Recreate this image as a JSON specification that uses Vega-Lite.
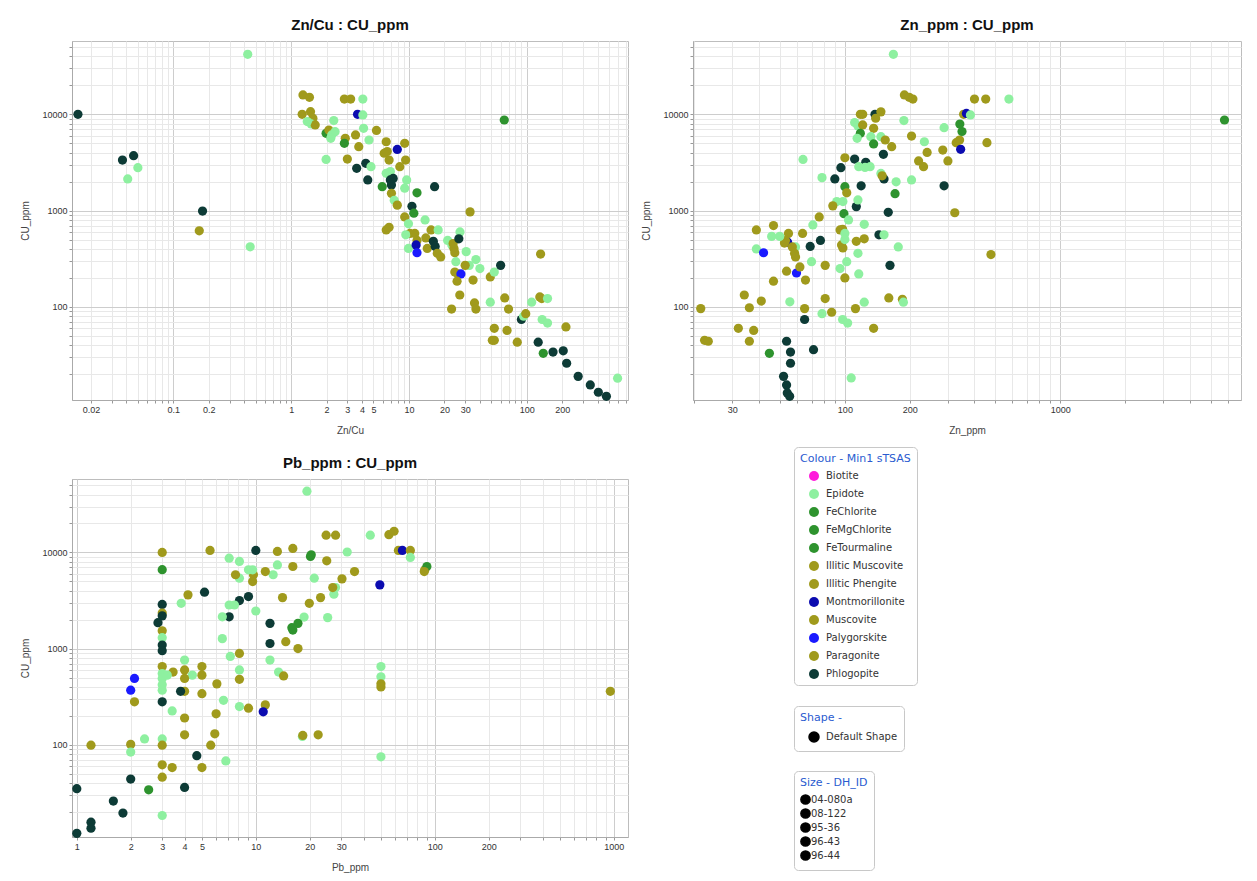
{
"$schema":"https://vega.github.io/schema/vega-lite/v6.json",
"padding":{"left":20,"top":17,"right":5,"bottom":0},
"background":"white",
"datasets":{
"ZnCu":[
{"ZnCu":0.0155,"CU_ppm":10000,"Min1":"Phlogopite"},
{"ZnCu":0.037,"CU_ppm":3350,"Min1":"Phlogopite"},
{"ZnCu":0.046,"CU_ppm":3720,"Min1":"Phlogopite"},
{"ZnCu":0.041,"CU_ppm":2130,"Min1":"Epidote"},
{"ZnCu":0.05,"CU_ppm":2790,"Min1":"Epidote"},
{"ZnCu":0.177,"CU_ppm":990,"Min1":"Phlogopite"},
{"ZnCu":0.166,"CU_ppm":617,"Min1":"Muscovite"},
{"ZnCu":0.428,"CU_ppm":42000,"Min1":"Epidote"},
{"ZnCu":0.449,"CU_ppm":421,"Min1":"Epidote"},
{"ZnCu":64.4,"CU_ppm":8730,"Min1":"FeChlorite"},
{"ZnCu":1.26,"CU_ppm":15900,"Min1":"Muscovite"},
{"ZnCu":1.43,"CU_ppm":15000,"Min1":"Muscovite"},
{"ZnCu":1.24,"CU_ppm":10000,"Min1":"Muscovite"},
{"ZnCu":1.46,"CU_ppm":10650,"Min1":"Muscovite"},
{"ZnCu":1.53,"CU_ppm":9100,"Min1":"Muscovite"},
{"ZnCu":1.48,"CU_ppm":7940,"Min1":"Epidote"},
{"ZnCu":1.6,"CU_ppm":7750,"Min1":"Muscovite"},
{"ZnCu":1.37,"CU_ppm":8400,"Min1":"Epidote"},
{"ZnCu":1.98,"CU_ppm":6350,"Min1":"FeChlorite"},
{"ZnCu":2.09,"CU_ppm":6870,"Min1":"Muscovite"},
{"ZnCu":1.98,"CU_ppm":3400,"Min1":"Epidote"},
{"ZnCu":2.21,"CU_ppm":6100,"Min1":"Epidote"},
{"ZnCu":2.36,"CU_ppm":6600,"Min1":"Epidote"},
{"ZnCu":2.3,"CU_ppm":8600,"Min1":"Epidote"},
{"ZnCu":2.17,"CU_ppm":5630,"Min1":"Epidote"},
{"ZnCu":2.83,"CU_ppm":14400,"Min1":"Muscovite"},
{"ZnCu":3.2,"CU_ppm":14400,"Min1":"Muscovite"},
{"ZnCu":4.06,"CU_ppm":14400,"Min1":"Epidote"},
{"ZnCu":3.66,"CU_ppm":10000,"Min1":"Montmorillonite"},
{"ZnCu":4.06,"CU_ppm":9850,"Min1":"Epidote"},
{"ZnCu":4.12,"CU_ppm":7150,"Min1":"Epidote"},
{"ZnCu":2.88,"CU_ppm":5630,"Min1":"Muscovite"},
{"ZnCu":2.83,"CU_ppm":5000,"Min1":"FeChlorite"},
{"ZnCu":3.52,"CU_ppm":6100,"Min1":"Muscovite"},
{"ZnCu":3.75,"CU_ppm":4610,"Min1":"Muscovite"},
{"ZnCu":4.58,"CU_ppm":5410,"Min1":"Epidote"},
{"ZnCu":3.0,"CU_ppm":3430,"Min1":"Muscovite"},
{"ZnCu":3.6,"CU_ppm":2750,"Min1":"Phlogopite"},
{"ZnCu":4.3,"CU_ppm":3100,"Min1":"Phlogopite"},
{"ZnCu":4.47,"CU_ppm":2080,"Min1":"Phlogopite"},
{"ZnCu":4.76,"CU_ppm":2860,"Min1":"Epidote"},
{"ZnCu":5.3,"CU_ppm":6800,"Min1":"Muscovite"},
{"ZnCu":6.41,"CU_ppm":5190,"Min1":"Muscovite"},
{"ZnCu":6.54,"CU_ppm":4100,"Min1":"Muscovite"},
{"ZnCu":6.16,"CU_ppm":3940,"Min1":"Muscovite"},
{"ZnCu":6.78,"CU_ppm":3350,"Min1":"Muscovite"},
{"ZnCu":7.96,"CU_ppm":4320,"Min1":"Montmorillonite"},
{"ZnCu":9.2,"CU_ppm":5000,"Min1":"Muscovite"},
{"ZnCu":9.37,"CU_ppm":3350,"Min1":"Muscovite"},
{"ZnCu":8.36,"CU_ppm":2860,"Min1":"Muscovite"},
{"ZnCu":6.95,"CU_ppm":2540,"Min1":"Epidote"},
{"ZnCu":6.41,"CU_ppm":2440,"Min1":"Epidote"},
{"ZnCu":6.95,"CU_ppm":2080,"Min1":"Phlogopite"},
{"ZnCu":7.35,"CU_ppm":2160,"Min1":"Phlogopite"},
{"ZnCu":7.1,"CU_ppm":1840,"Min1":"Phlogopite"},
{"ZnCu":5.93,"CU_ppm":1770,"Min1":"FeChlorite"},
{"ZnCu":7.1,"CU_ppm":1510,"Min1":"Muscovite"},
{"ZnCu":7.5,"CU_ppm":1280,"Min1":"Epidote"},
{"ZnCu":7.96,"CU_ppm":1140,"Min1":"Muscovite"},
{"ZnCu":9.56,"CU_ppm":2080,"Min1":"Epidote"},
{"ZnCu":9.2,"CU_ppm":1710,"Min1":"Epidote"},
{"ZnCu":11.7,"CU_ppm":1530,"Min1":"FeChlorite"},
{"ZnCu":10.6,"CU_ppm":1110,"Min1":"Phlogopite"},
{"ZnCu":11.0,"CU_ppm":940,"Min1":"FeChlorite"},
{"ZnCu":9.2,"CU_ppm":860,"Min1":"Muscovite"},
{"ZnCu":9.9,"CU_ppm":730,"Min1":"Epidote"},
{"ZnCu":10.2,"CU_ppm":580,"Min1":"Muscovite"},
{"ZnCu":6.41,"CU_ppm":630,"Min1":"Muscovite"},
{"ZnCu":6.78,"CU_ppm":670,"Min1":"Muscovite"},
{"ZnCu":9.4,"CU_ppm":560,"Min1":"Epidote"},
{"ZnCu":9.9,"CU_ppm":405,"Min1":"Epidote"},
{"ZnCu":11.2,"CU_ppm":580,"Min1":"Muscovite"},
{"ZnCu":11.7,"CU_ppm":490,"Min1":"Muscovite"},
{"ZnCu":11.5,"CU_ppm":440,"Min1":"Montmorillonite"},
{"ZnCu":11.7,"CU_ppm":365,"Min1":"Palygorskite"},
{"ZnCu":13.7,"CU_ppm":800,"Min1":"Epidote"},
{"ZnCu":15.4,"CU_ppm":630,"Min1":"Muscovite"},
{"ZnCu":13.9,"CU_ppm":520,"Min1":"Muscovite"},
{"ZnCu":14.3,"CU_ppm":405,"Min1":"Muscovite"},
{"ZnCu":16.1,"CU_ppm":480,"Min1":"Phlogopite"},
{"ZnCu":16.7,"CU_ppm":425,"Min1":"Phlogopite"},
{"ZnCu":17.4,"CU_ppm":360,"Min1":"Muscovite"},
{"ZnCu":18.6,"CU_ppm":330,"Min1":"Muscovite"},
{"ZnCu":17.7,"CU_ppm":630,"Min1":"Epidote"},
{"ZnCu":16.5,"CU_ppm":1770,"Min1":"Phlogopite"},
{"ZnCu":21.3,"CU_ppm":490,"Min1":"Epidote"},
{"ZnCu":23.1,"CU_ppm":440,"Min1":"Epidote"},
{"ZnCu":24.1,"CU_ppm":405,"Min1":"Muscovite"},
{"ZnCu":23.7,"CU_ppm":455,"Min1":"Muscovite"},
{"ZnCu":24.5,"CU_ppm":365,"Min1":"Muscovite"},
{"ZnCu":27.1,"CU_ppm":600,"Min1":"Epidote"},
{"ZnCu":26.5,"CU_ppm":510,"Min1":"Phlogopite"},
{"ZnCu":30.6,"CU_ppm":375,"Min1":"Epidote"},
{"ZnCu":25,"CU_ppm":295,"Min1":"Epidote"},
{"ZnCu":32.5,"CU_ppm":270,"Min1":"Epidote"},
{"ZnCu":30,"CU_ppm":270,"Min1":"Muscovite"},
{"ZnCu":24.5,"CU_ppm":230,"Min1":"Muscovite"},
{"ZnCu":26,"CU_ppm":220,"Min1":"Muscovite"},
{"ZnCu":27.6,"CU_ppm":220,"Min1":"Palygorskite"},
{"ZnCu":25.6,"CU_ppm":185,"Min1":"Muscovite"},
{"ZnCu":27,"CU_ppm":133,"Min1":"Muscovite"},
{"ZnCu":35,"CU_ppm":190,"Min1":"Muscovite"},
{"ZnCu":37,"CU_ppm":310,"Min1":"Epidote"},
{"ZnCu":40,"CU_ppm":250,"Min1":"Epidote"},
{"ZnCu":33,"CU_ppm":970,"Min1":"Muscovite"},
{"ZnCu":23,"CU_ppm":95,"Min1":"Muscovite"},
{"ZnCu":36,"CU_ppm":110,"Min1":"Muscovite"},
{"ZnCu":37,"CU_ppm":95,"Min1":"Muscovite"},
{"ZnCu":49,"CU_ppm":205,"Min1":"Muscovite"},
{"ZnCu":53,"CU_ppm":230,"Min1":"Epidote"},
{"ZnCu":49,"CU_ppm":112,"Min1":"Epidote"},
{"ZnCu":60,"CU_ppm":270,"Min1":"Phlogopite"},
{"ZnCu":53,"CU_ppm":60,"Min1":"Muscovite"},
{"ZnCu":68,"CU_ppm":57,"Min1":"Muscovite"},
{"ZnCu":51,"CU_ppm":45,"Min1":"Muscovite"},
{"ZnCu":53,"CU_ppm":45,"Min1":"Muscovite"},
{"ZnCu":65,"CU_ppm":124,"Min1":"Muscovite"},
{"ZnCu":70,"CU_ppm":95,"Min1":"Muscovite"},
{"ZnCu":83,"CU_ppm":43,"Min1":"Muscovite"},
{"ZnCu":90,"CU_ppm":74,"Min1":"Phlogopite"},
{"ZnCu":94,"CU_ppm":80,"Min1":"Epidote"},
{"ZnCu":98,"CU_ppm":85,"Min1":"Muscovite"},
{"ZnCu":110,"CU_ppm":112,"Min1":"Epidote"},
{"ZnCu":129,"CU_ppm":127,"Min1":"Muscovite"},
{"ZnCu":134,"CU_ppm":122,"Min1":"Muscovite"},
{"ZnCu":150,"CU_ppm":122,"Min1":"Epidote"},
{"ZnCu":131,"CU_ppm":354,"Min1":"Muscovite"},
{"ZnCu":135,"CU_ppm":74,"Min1":"Epidote"},
{"ZnCu":150,"CU_ppm":68,"Min1":"Epidote"},
{"ZnCu":215,"CU_ppm":62,"Min1":"Muscovite"},
{"ZnCu":125,"CU_ppm":43,"Min1":"Phlogopite"},
{"ZnCu":138,"CU_ppm":33,"Min1":"FeChlorite"},
{"ZnCu":167,"CU_ppm":34,"Min1":"Phlogopite"},
{"ZnCu":204,"CU_ppm":35,"Min1":"Phlogopite"},
{"ZnCu":218,"CU_ppm":26,"Min1":"Phlogopite"},
{"ZnCu":273,"CU_ppm":19,"Min1":"Phlogopite"},
{"ZnCu":346,"CU_ppm":15.5,"Min1":"Phlogopite"},
{"ZnCu":405,"CU_ppm":13,"Min1":"Phlogopite"},
{"ZnCu":474,"CU_ppm":11.8,"Min1":"Phlogopite"},
{"ZnCu":590,"CU_ppm":18.2,"Min1":"Epidote"}
],
"Zn":[
{"Zn_ppm":168,"CU_ppm":42000,"Min1":"Epidote"},
{"Zn_ppm":189,"CU_ppm":15900,"Min1":"Muscovite"},
{"Zn_ppm":199,"CU_ppm":15000,"Min1":"Muscovite"},
{"Zn_ppm":207,"CU_ppm":14400,"Min1":"Muscovite"},
{"Zn_ppm":400,"CU_ppm":14400,"Min1":"Muscovite"},
{"Zn_ppm":451,"CU_ppm":14400,"Min1":"Muscovite"},
{"Zn_ppm":578,"CU_ppm":14400,"Min1":"Epidote"},
{"Zn_ppm":118,"CU_ppm":10000,"Min1":"Muscovite"},
{"Zn_ppm":121,"CU_ppm":10000,"Min1":"Muscovite"},
{"Zn_ppm":138,"CU_ppm":10000,"Min1":"Phlogopite"},
{"Zn_ppm":147,"CU_ppm":10600,"Min1":"Muscovite"},
{"Zn_ppm":139,"CU_ppm":9100,"Min1":"Muscovite"},
{"Zn_ppm":111,"CU_ppm":8200,"Min1":"Epidote"},
{"Zn_ppm":115,"CU_ppm":7560,"Min1":"Epidote"},
{"Zn_ppm":121,"CU_ppm":7750,"Min1":"Muscovite"},
{"Zn_ppm":118,"CU_ppm":6350,"Min1":"FeChlorite"},
{"Zn_ppm":114,"CU_ppm":5630,"Min1":"Epidote"},
{"Zn_ppm":188,"CU_ppm":8600,"Min1":"Epidote"},
{"Zn_ppm":136,"CU_ppm":7150,"Min1":"Muscovite"},
{"Zn_ppm":132,"CU_ppm":5860,"Min1":"Epidote"},
{"Zn_ppm":147,"CU_ppm":5860,"Min1":"Epidote"},
{"Zn_ppm":154,"CU_ppm":5410,"Min1":"Muscovite"},
{"Zn_ppm":136,"CU_ppm":4920,"Min1":"FeChlorite"},
{"Zn_ppm":165,"CU_ppm":4610,"Min1":"Muscovite"},
{"Zn_ppm":204,"CU_ppm":5950,"Min1":"Muscovite"},
{"Zn_ppm":234,"CU_ppm":5190,"Min1":"Epidote"},
{"Zn_ppm":241,"CU_ppm":4020,"Min1":"Muscovite"},
{"Zn_ppm":220,"CU_ppm":3280,"Min1":"Muscovite"},
{"Zn_ppm":232,"CU_ppm":2860,"Min1":"Muscovite"},
{"Zn_ppm":301,"CU_ppm":3280,"Min1":"Muscovite"},
{"Zn_ppm":285,"CU_ppm":4250,"Min1":"Muscovite"},
{"Zn_ppm":289,"CU_ppm":7270,"Min1":"Epidote"},
{"Zn_ppm":329,"CU_ppm":5070,"Min1":"Muscovite"},
{"Zn_ppm":345,"CU_ppm":4330,"Min1":"Montmorillonite"},
{"Zn_ppm":341,"CU_ppm":5410,"Min1":"Muscovite"},
{"Zn_ppm":350,"CU_ppm":6630,"Min1":"FeChlorite"},
{"Zn_ppm":356,"CU_ppm":10000,"Min1":"Muscovite"},
{"Zn_ppm":367,"CU_ppm":10200,"Min1":"Montmorillonite"},
{"Zn_ppm":383,"CU_ppm":9850,"Min1":"Epidote"},
{"Zn_ppm":342,"CU_ppm":7930,"Min1":"FeChlorite"},
{"Zn_ppm":457,"CU_ppm":5070,"Min1":"Muscovite"},
{"Zn_ppm":477,"CU_ppm":350,"Min1":"Muscovite"},
{"Zn_ppm":5800,"CU_ppm":8730,"Min1":"FeChlorite"},
{"Zn_ppm":324,"CU_ppm":950,"Min1":"Muscovite"},
{"Zn_ppm":289,"CU_ppm":1810,"Min1":"Phlogopite"},
{"Zn_ppm":63.9,"CU_ppm":3400,"Min1":"Epidote"},
{"Zn_ppm":78.3,"CU_ppm":2200,"Min1":"Epidote"},
{"Zn_ppm":89.8,"CU_ppm":2130,"Min1":"Phlogopite"},
{"Zn_ppm":95.8,"CU_ppm":2790,"Min1":"Phlogopite"},
{"Zn_ppm":100,"CU_ppm":3540,"Min1":"Muscovite"},
{"Zn_ppm":111,"CU_ppm":3430,"Min1":"Phlogopite"},
{"Zn_ppm":125,"CU_ppm":3170,"Min1":"Phlogopite"},
{"Zn_ppm":116,"CU_ppm":2860,"Min1":"Epidote"},
{"Zn_ppm":124,"CU_ppm":2810,"Min1":"Epidote"},
{"Zn_ppm":131,"CU_ppm":2860,"Min1":"Epidote"},
{"Zn_ppm":147,"CU_ppm":2430,"Min1":"Epidote"},
{"Zn_ppm":152,"CU_ppm":2130,"Min1":"Phlogopite"},
{"Zn_ppm":149,"CU_ppm":2300,"Min1":"Muscovite"},
{"Zn_ppm":151,"CU_ppm":3840,"Min1":"Phlogopite"},
{"Zn_ppm":173,"CU_ppm":1990,"Min1":"Epidote"},
{"Zn_ppm":204,"CU_ppm":2080,"Min1":"Epidote"},
{"Zn_ppm":171,"CU_ppm":1500,"Min1":"FeChlorite"},
{"Zn_ppm":119,"CU_ppm":1810,"Min1":"Phlogopite"},
{"Zn_ppm":100,"CU_ppm":1770,"Min1":"FeChlorite"},
{"Zn_ppm":102,"CU_ppm":1530,"Min1":"Muscovite"},
{"Zn_ppm":91.7,"CU_ppm":1240,"Min1":"Epidote"},
{"Zn_ppm":87.9,"CU_ppm":1120,"Min1":"Muscovite"},
{"Zn_ppm":97.9,"CU_ppm":1240,"Min1":"Epidote"},
{"Zn_ppm":113,"CU_ppm":1100,"Min1":"Phlogopite"},
{"Zn_ppm":115,"CU_ppm":1290,"Min1":"Epidote"},
{"Zn_ppm":159,"CU_ppm":960,"Min1":"Phlogopite"},
{"Zn_ppm":99,"CU_ppm":930,"Min1":"FeChlorite"},
{"Zn_ppm":104,"CU_ppm":800,"Min1":"Epidote"},
{"Zn_ppm":95,"CU_ppm":630,"Min1":"Muscovite"},
{"Zn_ppm":97.6,"CU_ppm":640,"Min1":"Muscovite"},
{"Zn_ppm":100,"CU_ppm":580,"Min1":"Epidote"},
{"Zn_ppm":97.9,"CU_ppm":410,"Min1":"Muscovite"},
{"Zn_ppm":96.5,"CU_ppm":440,"Min1":"Muscovite"},
{"Zn_ppm":100,"CU_ppm":500,"Min1":"Epidote"},
{"Zn_ppm":113,"CU_ppm":480,"Min1":"Muscovite"},
{"Zn_ppm":123,"CU_ppm":510,"Min1":"Muscovite"},
{"Zn_ppm":123,"CU_ppm":720,"Min1":"Epidote"},
{"Zn_ppm":115,"CU_ppm":360,"Min1":"Epidote"},
{"Zn_ppm":102,"CU_ppm":295,"Min1":"Epidote"},
{"Zn_ppm":95,"CU_ppm":250,"Min1":"Epidote"},
{"Zn_ppm":100,"CU_ppm":200,"Min1":"Muscovite"},
{"Zn_ppm":116,"CU_ppm":220,"Min1":"Epidote"},
{"Zn_ppm":144,"CU_ppm":560,"Min1":"Phlogopite"},
{"Zn_ppm":152,"CU_ppm":560,"Min1":"Epidote"},
{"Zn_ppm":177,"CU_ppm":420,"Min1":"Epidote"},
{"Zn_ppm":162,"CU_ppm":270,"Min1":"Phlogopite"},
{"Zn_ppm":76,"CU_ppm":860,"Min1":"Muscovite"},
{"Zn_ppm":71,"CU_ppm":710,"Min1":"Epidote"},
{"Zn_ppm":77,"CU_ppm":490,"Min1":"Phlogopite"},
{"Zn_ppm":69,"CU_ppm":425,"Min1":"Phlogopite"},
{"Zn_ppm":81,"CU_ppm":270,"Min1":"Muscovite"},
{"Zn_ppm":63.6,"CU_ppm":580,"Min1":"Muscovite"},
{"Zn_ppm":70,"CU_ppm":295,"Min1":"Epidote"},
{"Zn_ppm":59,"CU_ppm":420,"Min1":"Epidote"},
{"Zn_ppm":54.7,"CU_ppm":580,"Min1":"Muscovite"},
{"Zn_ppm":54.2,"CU_ppm":470,"Min1":"Montmorillonite"},
{"Zn_ppm":53,"CU_ppm":490,"Min1":"Muscovite"},
{"Zn_ppm":52.4,"CU_ppm":460,"Min1":"Muscovite"},
{"Zn_ppm":57,"CU_ppm":420,"Min1":"Muscovite"},
{"Zn_ppm":58.4,"CU_ppm":360,"Min1":"Muscovite"},
{"Zn_ppm":59,"CU_ppm":330,"Min1":"Muscovite"},
{"Zn_ppm":59.6,"CU_ppm":225,"Min1":"Palygorskite"},
{"Zn_ppm":61.8,"CU_ppm":260,"Min1":"Muscovite"},
{"Zn_ppm":65.6,"CU_ppm":190,"Min1":"Muscovite"},
{"Zn_ppm":53.6,"CU_ppm":235,"Min1":"Muscovite"},
{"Zn_ppm":46.6,"CU_ppm":700,"Min1":"Muscovite"},
{"Zn_ppm":45.7,"CU_ppm":540,"Min1":"Epidote"},
{"Zn_ppm":38.8,"CU_ppm":630,"Min1":"Muscovite"},
{"Zn_ppm":38.8,"CU_ppm":400,"Min1":"Epidote"},
{"Zn_ppm":41.9,"CU_ppm":365,"Min1":"Palygorskite"},
{"Zn_ppm":49.8,"CU_ppm":540,"Min1":"Epidote"},
{"Zn_ppm":46.6,"CU_ppm":185,"Min1":"Muscovite"},
{"Zn_ppm":34.1,"CU_ppm":133,"Min1":"Muscovite"},
{"Zn_ppm":36,"CU_ppm":98,"Min1":"Muscovite"},
{"Zn_ppm":40.9,"CU_ppm":115,"Min1":"Muscovite"},
{"Zn_ppm":55.5,"CU_ppm":113,"Min1":"Epidote"},
{"Zn_ppm":65,"CU_ppm":96,"Min1":"Muscovite"},
{"Zn_ppm":65,"CU_ppm":74,"Min1":"Phlogopite"},
{"Zn_ppm":78.3,"CU_ppm":85,"Min1":"Epidote"},
{"Zn_ppm":81,"CU_ppm":122,"Min1":"Muscovite"},
{"Zn_ppm":86.8,"CU_ppm":88,"Min1":"Muscovite"},
{"Zn_ppm":97.6,"CU_ppm":74,"Min1":"Epidote"},
{"Zn_ppm":103,"CU_ppm":68,"Min1":"Epidote"},
{"Zn_ppm":112,"CU_ppm":96,"Min1":"Muscovite"},
{"Zn_ppm":123,"CU_ppm":112,"Min1":"Epidote"},
{"Zn_ppm":160,"CU_ppm":124,"Min1":"Muscovite"},
{"Zn_ppm":185,"CU_ppm":120,"Min1":"Muscovite"},
{"Zn_ppm":187,"CU_ppm":112,"Min1":"Epidote"},
{"Zn_ppm":136,"CU_ppm":60,"Min1":"Muscovite"},
{"Zn_ppm":21.4,"CU_ppm":96,"Min1":"Muscovite"},
{"Zn_ppm":22.3,"CU_ppm":45,"Min1":"Muscovite"},
{"Zn_ppm":23.2,"CU_ppm":44,"Min1":"Muscovite"},
{"Zn_ppm":32,"CU_ppm":60,"Min1":"Muscovite"},
{"Zn_ppm":37.7,"CU_ppm":57,"Min1":"Muscovite"},
{"Zn_ppm":36,"CU_ppm":44,"Min1":"Muscovite"},
{"Zn_ppm":44.6,"CU_ppm":33,"Min1":"FeChlorite"},
{"Zn_ppm":53.6,"CU_ppm":44,"Min1":"Phlogopite"},
{"Zn_ppm":55.9,"CU_ppm":34,"Min1":"Phlogopite"},
{"Zn_ppm":55.9,"CU_ppm":26,"Min1":"Phlogopite"},
{"Zn_ppm":51.9,"CU_ppm":19,"Min1":"Phlogopite"},
{"Zn_ppm":53.6,"CU_ppm":15.5,"Min1":"Phlogopite"},
{"Zn_ppm":54,"CU_ppm":12.8,"Min1":"Phlogopite"},
{"Zn_ppm":55.4,"CU_ppm":11.8,"Min1":"Phlogopite"},
{"Zn_ppm":71.5,"CU_ppm":36,"Min1":"Phlogopite"},
{"Zn_ppm":107,"CU_ppm":18.3,"Min1":"Epidote"}
],
"Pb":[
{"Pb_ppm":19.3,"CU_ppm":43300,"Min1":"Epidote"},
{"Pb_ppm":24.7,"CU_ppm":15100,"Min1":"Muscovite"},
{"Pb_ppm":27.9,"CU_ppm":15100,"Min1":"Muscovite"},
{"Pb_ppm":43.6,"CU_ppm":15100,"Min1":"Epidote"},
{"Pb_ppm":55.4,"CU_ppm":15300,"Min1":"Muscovite"},
{"Pb_ppm":59.2,"CU_ppm":16600,"Min1":"Muscovite"},
{"Pb_ppm":62.6,"CU_ppm":10500,"Min1":"Muscovite"},
{"Pb_ppm":65.9,"CU_ppm":10500,"Min1":"Montmorillonite"},
{"Pb_ppm":73,"CU_ppm":10500,"Min1":"Muscovite"},
{"Pb_ppm":73,"CU_ppm":8870,"Min1":"Epidote"},
{"Pb_ppm":88,"CU_ppm":6590,"Min1":"Muscovite"},
{"Pb_ppm":90.3,"CU_ppm":7140,"Min1":"FeChlorite"},
{"Pb_ppm":87.3,"CU_ppm":6330,"Min1":"Muscovite"},
{"Pb_ppm":32.4,"CU_ppm":10100,"Min1":"Epidote"},
{"Pb_ppm":35.6,"CU_ppm":6330,"Min1":"Muscovite"},
{"Pb_ppm":30.3,"CU_ppm":5310,"Min1":"Muscovite"},
{"Pb_ppm":27.9,"CU_ppm":4310,"Min1":"Epidote"},
{"Pb_ppm":27.3,"CU_ppm":3680,"Min1":"Epidote"},
{"Pb_ppm":26.9,"CU_ppm":4310,"Min1":"Muscovite"},
{"Pb_ppm":24.9,"CU_ppm":8190,"Min1":"Muscovite"},
{"Pb_ppm":21.2,"CU_ppm":5400,"Min1":"Epidote"},
{"Pb_ppm":20.2,"CU_ppm":9090,"Min1":"FeChlorite"},
{"Pb_ppm":20.4,"CU_ppm":9450,"Min1":"FeChlorite"},
{"Pb_ppm":19.9,"CU_ppm":2960,"Min1":"Muscovite"},
{"Pb_ppm":23,"CU_ppm":3390,"Min1":"Muscovite"},
{"Pb_ppm":25.2,"CU_ppm":2100,"Min1":"Epidote"},
{"Pb_ppm":18.6,"CU_ppm":2130,"Min1":"Epidote"},
{"Pb_ppm":17.2,"CU_ppm":1830,"Min1":"FeChlorite"},
{"Pb_ppm":16.1,"CU_ppm":1560,"Min1":"FeChlorite"},
{"Pb_ppm":15.9,"CU_ppm":1650,"Min1":"FeChlorite"},
{"Pb_ppm":14.1,"CU_ppm":3390,"Min1":"Muscovite"},
{"Pb_ppm":14.7,"CU_ppm":1180,"Min1":"Muscovite"},
{"Pb_ppm":17.2,"CU_ppm":1000,"Min1":"Muscovite"},
{"Pb_ppm":16.1,"CU_ppm":7140,"Min1":"Muscovite"},
{"Pb_ppm":16.1,"CU_ppm":11000,"Min1":"Muscovite"},
{"Pb_ppm":13.2,"CU_ppm":10250,"Min1":"Muscovite"},
{"Pb_ppm":13.2,"CU_ppm":7420,"Min1":"Epidote"},
{"Pb_ppm":12.5,"CU_ppm":5860,"Min1":"Epidote"},
{"Pb_ppm":11.3,"CU_ppm":6320,"Min1":"Muscovite"},
{"Pb_ppm":10,"CU_ppm":10500,"Min1":"Phlogopite"},
{"Pb_ppm":9.7,"CU_ppm":5860,"Min1":"Muscovite"},
{"Pb_ppm":9.6,"CU_ppm":4980,"Min1":"Muscovite"},
{"Pb_ppm":9.6,"CU_ppm":6600,"Min1":"Epidote"},
{"Pb_ppm":9.1,"CU_ppm":6600,"Min1":"Epidote"},
{"Pb_ppm":8.1,"CU_ppm":8060,"Min1":"Epidote"},
{"Pb_ppm":7.1,"CU_ppm":8720,"Min1":"Epidote"},
{"Pb_ppm":8.1,"CU_ppm":5400,"Min1":"Epidote"},
{"Pb_ppm":7.7,"CU_ppm":5860,"Min1":"Muscovite"},
{"Pb_ppm":9.1,"CU_ppm":3480,"Min1":"Phlogopite"},
{"Pb_ppm":8.1,"CU_ppm":3160,"Min1":"Phlogopite"},
{"Pb_ppm":7.6,"CU_ppm":2840,"Min1":"Epidote"},
{"Pb_ppm":7.1,"CU_ppm":2840,"Min1":"Epidote"},
{"Pb_ppm":7.1,"CU_ppm":2140,"Min1":"Phlogopite"},
{"Pb_ppm":6.5,"CU_ppm":2140,"Min1":"Epidote"},
{"Pb_ppm":10,"CU_ppm":2460,"Min1":"Epidote"},
{"Pb_ppm":12,"CU_ppm":1830,"Min1":"Phlogopite"},
{"Pb_ppm":12,"CU_ppm":1130,"Min1":"Phlogopite"},
{"Pb_ppm":12,"CU_ppm":760,"Min1":"Epidote"},
{"Pb_ppm":13.4,"CU_ppm":570,"Min1":"Epidote"},
{"Pb_ppm":14.3,"CU_ppm":520,"Min1":"Muscovite"},
{"Pb_ppm":6.5,"CU_ppm":1270,"Min1":"Epidote"},
{"Pb_ppm":7.2,"CU_ppm":830,"Min1":"Epidote"},
{"Pb_ppm":8.1,"CU_ppm":890,"Min1":"Muscovite"},
{"Pb_ppm":8.1,"CU_ppm":600,"Min1":"Epidote"},
{"Pb_ppm":8.1,"CU_ppm":480,"Min1":"Muscovite"},
{"Pb_ppm":6.6,"CU_ppm":290,"Min1":"Epidote"},
{"Pb_ppm":8.1,"CU_ppm":250,"Min1":"Epidote"},
{"Pb_ppm":9.1,"CU_ppm":240,"Min1":"Muscovite"},
{"Pb_ppm":11.3,"CU_ppm":260,"Min1":"Muscovite"},
{"Pb_ppm":11,"CU_ppm":220,"Min1":"Montmorillonite"},
{"Pb_ppm":6.06,"CU_ppm":430,"Min1":"Muscovite"},
{"Pb_ppm":6.0,"CU_ppm":210,"Min1":"Muscovite"},
{"Pb_ppm":5.9,"CU_ppm":130,"Min1":"Muscovite"},
{"Pb_ppm":5.6,"CU_ppm":99,"Min1":"Muscovite"},
{"Pb_ppm":5,"CU_ppm":58,"Min1":"Muscovite"},
{"Pb_ppm":5,"CU_ppm":340,"Min1":"Muscovite"},
{"Pb_ppm":5,"CU_ppm":650,"Min1":"Muscovite"},
{"Pb_ppm":5,"CU_ppm":530,"Min1":"Muscovite"},
{"Pb_ppm":4.42,"CU_ppm":530,"Min1":"Epidote"},
{"Pb_ppm":4,"CU_ppm":760,"Min1":"Epidote"},
{"Pb_ppm":4,"CU_ppm":600,"Min1":"Muscovite"},
{"Pb_ppm":4,"CU_ppm":490,"Min1":"Muscovite"},
{"Pb_ppm":4,"CU_ppm":360,"Min1":"Muscovite"},
{"Pb_ppm":4,"CU_ppm":190,"Min1":"Muscovite"},
{"Pb_ppm":4,"CU_ppm":127,"Min1":"Muscovite"},
{"Pb_ppm":4,"CU_ppm":36,"Min1":"Phlogopite"},
{"Pb_ppm":3.8,"CU_ppm":360,"Min1":"Phlogopite"},
{"Pb_ppm":4.18,"CU_ppm":3620,"Min1":"Muscovite"},
{"Pb_ppm":3.83,"CU_ppm":2960,"Min1":"Epidote"},
{"Pb_ppm":5.17,"CU_ppm":3860,"Min1":"Phlogopite"},
{"Pb_ppm":4.68,"CU_ppm":77,"Min1":"Phlogopite"},
{"Pb_ppm":6.8,"CU_ppm":68,"Min1":"Epidote"},
{"Pb_ppm":3.45,"CU_ppm":570,"Min1":"Muscovite"},
{"Pb_ppm":3.41,"CU_ppm":225,"Min1":"Epidote"},
{"Pb_ppm":3.41,"CU_ppm":58,"Min1":"Muscovite"},
{"Pb_ppm":3,"CU_ppm":10000,"Min1":"Muscovite"},
{"Pb_ppm":3,"CU_ppm":6620,"Min1":"FeChlorite"},
{"Pb_ppm":3,"CU_ppm":2880,"Min1":"Phlogopite"},
{"Pb_ppm":3,"CU_ppm":2340,"Min1":"Muscovite"},
{"Pb_ppm":3,"CU_ppm":2190,"Min1":"Phlogopite"},
{"Pb_ppm":2.84,"CU_ppm":1860,"Min1":"Phlogopite"},
{"Pb_ppm":3,"CU_ppm":1530,"Min1":"Muscovite"},
{"Pb_ppm":3,"CU_ppm":1300,"Min1":"Epidote"},
{"Pb_ppm":3,"CU_ppm":1090,"Min1":"Phlogopite"},
{"Pb_ppm":3,"CU_ppm":950,"Min1":"Phlogopite"},
{"Pb_ppm":3,"CU_ppm":650,"Min1":"Muscovite"},
{"Pb_ppm":3,"CU_ppm":550,"Min1":"Epidote"},
{"Pb_ppm":3,"CU_ppm":490,"Min1":"Epidote"},
{"Pb_ppm":3,"CU_ppm":420,"Min1":"Epidote"},
{"Pb_ppm":3,"CU_ppm":370,"Min1":"Epidote"},
{"Pb_ppm":3,"CU_ppm":280,"Min1":"Phlogopite"},
{"Pb_ppm":3.2,"CU_ppm":530,"Min1":"Epidote"},
{"Pb_ppm":3,"CU_ppm":115,"Min1":"Epidote"},
{"Pb_ppm":3,"CU_ppm":99,"Min1":"Muscovite"},
{"Pb_ppm":3,"CU_ppm":62,"Min1":"Muscovite"},
{"Pb_ppm":3,"CU_ppm":46,"Min1":"Muscovite"},
{"Pb_ppm":3,"CU_ppm":18.4,"Min1":"Epidote"},
{"Pb_ppm":2.39,"CU_ppm":115,"Min1":"Epidote"},
{"Pb_ppm":2.52,"CU_ppm":34,"Min1":"FeChlorite"},
{"Pb_ppm":2,"CU_ppm":370,"Min1":"Palygorskite"},
{"Pb_ppm":2.1,"CU_ppm":490,"Min1":"Palygorskite"},
{"Pb_ppm":2.1,"CU_ppm":280,"Min1":"Muscovite"},
{"Pb_ppm":2,"CU_ppm":101,"Min1":"Muscovite"},
{"Pb_ppm":2,"CU_ppm":84,"Min1":"Epidote"},
{"Pb_ppm":2,"CU_ppm":44,"Min1":"Phlogopite"},
{"Pb_ppm":1.2,"CU_ppm":99,"Min1":"Muscovite"},
{"Pb_ppm":1.2,"CU_ppm":15.7,"Min1":"Phlogopite"},
{"Pb_ppm":1.2,"CU_ppm":13.6,"Min1":"Phlogopite"},
{"Pb_ppm":1,"CU_ppm":35,"Min1":"Phlogopite"},
{"Pb_ppm":1,"CU_ppm":12,"Min1":"Phlogopite"},
{"Pb_ppm":1.6,"CU_ppm":26,"Min1":"Phlogopite"},
{"Pb_ppm":1.81,"CU_ppm":19.5,"Min1":"Phlogopite"},
{"Pb_ppm":5.55,"CU_ppm":10500,"Min1":"Muscovite"},
{"Pb_ppm":49.3,"CU_ppm":4600,"Min1":"Montmorillonite"},
{"Pb_ppm":50,"CU_ppm":650,"Min1":"Epidote"},
{"Pb_ppm":50,"CU_ppm":510,"Min1":"Epidote"},
{"Pb_ppm":50,"CU_ppm":430,"Min1":"Muscovite"},
{"Pb_ppm":50,"CU_ppm":400,"Min1":"Muscovite"},
{"Pb_ppm":50,"CU_ppm":75,"Min1":"Epidote"},
{"Pb_ppm":18.2,"CU_ppm":122,"Min1":"Epidote"},
{"Pb_ppm":18.3,"CU_ppm":125,"Min1":"Muscovite"},
{"Pb_ppm":22.3,"CU_ppm":127,"Min1":"Muscovite"},
{"Pb_ppm":956,"CU_ppm":360,"Min1":"Muscovite"}
]
},
"columns":2,
"spacing":{"row":19,"column":12},
"concat":[
{
"data":{"name":"ZnCu"},
"title":"Zn/Cu : CU_ppm",
"width":556,"height":359,
"mark":{"type":"point","filled":true,"opacity":1,"strokeWidth":0},
"encoding":{
"x":{"field":"ZnCu","type":"quantitative","scale":{"type":"log","domain":[0.0138,723],"nice":false},
"axis":{"title":"Zn/Cu","titlePadding":11,"values":[0.02,0.03,0.04,0.05,0.06,0.07,0.08,0.09,0.1,0.2,0.3,0.4,0.5,0.6,0.7,0.8,0.9,1,2,3,4,5,6,7,8,9,10,20,30,40,50,60,70,80,90,100,200,300,400,500,600,700],
"labelExpr":"indexof([0.02,0.1,0.2,1,2,3,4,5,10,20,30,100,200],datum.value)>=0 ? format(datum.value,'~g') : ''",
"gridColor":{"condition":{"test":"indexof([0.1,1,10,100],datum.value)>=0","value":"#cdcdcd"},"value":"#e8e8e8"}}},
"y":{"field":"CU_ppm","type":"quantitative","scale":{"type":"log","domain":[10.8,57700],"nice":false},
"axis":{"title":"CU_ppm","titlePadding":11,"values":[20,30,40,50,60,70,80,90,100,200,300,400,500,600,700,800,900,1000,2000,3000,4000,5000,6000,7000,8000,9000,10000,20000,30000,40000,50000],
"labelExpr":"indexof([100,1000,10000],datum.value)>=0 ? format(datum.value,'d') : ''",
"gridColor":{"condition":{"test":"indexof([100,1000,10000],datum.value)>=0","value":"#cdcdcd"},"value":"#e8e8e8"}}},
"color":{"field":"Min1","type":"nominal","title":"Colour - Min1 sTSAS",
"scale":{"domain":["Biotite","Epidote","FeChlorite","FeMgChlorite","FeTourmaline","Illitic Muscovite","Illitic Phengite","Montmorillonite","Muscovite","Palygorskite","Paragonite","Phlogopite"],
"range":["#ff1adb","#8ef0a0","#2e932e","#2e932e","#2e932e","#a09a1c","#a09a1c","#0b0bb0","#a09a1c","#1a1aff","#a09a1c","#0d3b36"]},
"legend":{"orient":"none","legendX":722,"legendY":406,"symbolSize":100,"rowPadding":7,"symbolOffset":8,"labelOffset":6,"titlePadding":6}},
"shape":{"datum":"Default Shape","type":"nominal","title":"Shape -",
"scale":{"domain":["Default Shape"],"range":["circle"]},
"legend":{"orient":"none","legendX":722,"legendY":665,"symbolFillColor":"black","symbolStrokeColor":"black","symbolSize":100,"symbolOffset":8,"labelOffset":6,"titlePadding":8}},
"size":{"datum":"04-080a","type":"ordinal","title":"Size - DH_ID",
"scale":{"domain":["04-080a","08-122","95-36","96-43","96-44"],"range":[85,85,85,85,85]},
"legend":{"orient":"none","legendX":722,"legendY":730,"symbolFillColor":"black","symbolStrokeColor":"black","rowPadding":-3,"labelOffset":0,"titlePadding":6}}
}
},
{
"data":{"name":"Zn"},
"title":"Zn_ppm : CU_ppm",
"width":548,"height":359,
"mark":{"type":"point","filled":true,"opacity":1,"strokeWidth":0},
"encoding":{
"x":{"field":"Zn_ppm","type":"quantitative","scale":{"type":"log","domain":[19.7,6920],"nice":false},
"axis":{"title":"Zn_ppm","titlePadding":11,"values":[20,30,40,50,60,70,80,90,100,200,300,400,500,600,700,800,900,1000,2000,3000,4000,5000,6000],
"labelExpr":"indexof([30,100,200,1000],datum.value)>=0 ? format(datum.value,'~g') : ''",
"gridColor":{"condition":{"test":"indexof([100,1000],datum.value)>=0","value":"#cdcdcd"},"value":"#e8e8e8"}}},
"y":{"field":"CU_ppm","type":"quantitative","scale":{"type":"log","domain":[10.8,57700],"nice":false},
"axis":{"title":"CU_ppm","titlePadding":11,"values":[20,30,40,50,60,70,80,90,100,200,300,400,500,600,700,800,900,1000,2000,3000,4000,5000,6000,7000,8000,9000,10000,20000,30000,40000,50000],
"labelExpr":"indexof([100,1000,10000],datum.value)>=0 ? format(datum.value,'d') : ''",
"gridColor":{"condition":{"test":"indexof([100,1000,10000],datum.value)>=0","value":"#cdcdcd"},"value":"#e8e8e8"}}},
"color":{"field":"Min1","type":"nominal"},
"shape":{"datum":"Default Shape","type":"nominal"},
"size":{"datum":"04-080a","type":"ordinal"}
}
},
{
"data":{"name":"Pb"},
"title":"Pb_ppm : CU_ppm",
"width":556,"height":358,
"mark":{"type":"point","filled":true,"opacity":1,"strokeWidth":0},
"encoding":{
"x":{"field":"Pb_ppm","type":"quantitative","scale":{"type":"log","domain":[0.94,1200],"nice":false},
"axis":{"title":"Pb_ppm","titlePadding":11,"values":[1,2,3,4,5,6,7,8,9,10,20,30,40,50,60,70,80,90,100,200,300,400,500,600,700,800,900,1000],
"labelExpr":"indexof([1,2,3,4,5,10,20,30,100,200,1000],datum.value)>=0 ? format(datum.value,'~g') : ''",
"gridColor":{"condition":{"test":"indexof([1,10,100,1000],datum.value)>=0","value":"#cdcdcd"},"value":"#e8e8e8"}}},
"y":{"field":"CU_ppm","type":"quantitative","scale":{"type":"log","domain":[11,58000],"nice":false},
"axis":{"title":"CU_ppm","titlePadding":11,"values":[20,30,40,50,60,70,80,90,100,200,300,400,500,600,700,800,900,1000,2000,3000,4000,5000,6000,7000,8000,9000,10000,20000,30000,40000,50000],
"labelExpr":"indexof([100,1000,10000],datum.value)>=0 ? format(datum.value,'d') : ''",
"gridColor":{"condition":{"test":"indexof([100,1000,10000],datum.value)>=0","value":"#cdcdcd"},"value":"#e8e8e8"}}},
"color":{"field":"Min1","type":"nominal"},
"shape":{"datum":"Default Shape","type":"nominal"},
"size":{"datum":"04-080a","type":"ordinal"}
}
}
],
"config":{
"font":"Liberation Sans",
"view":{"stroke":"#bdbdbd"},
"title":{"font":"Liberation Sans","fontSize":15,"fontWeight":"bold","anchor":"middle","frame":"group","offset":8,"color":"#111"},
"axis":{"labelFont":"Liberation Sans","labelFontSize":9,"labelColor":"#333","titleFont":"Liberation Sans","titleFontSize":10,"titleFontWeight":"normal","titleColor":"#444","tickColor":"#999","tickSize":3,"domainColor":"#aaa","labelOverlap":false,"labelPadding":2},
"legend":{"labelFont":"DejaVu Sans","labelFontSize":10,"labelColor":"#333","titleFont":"DejaVu Sans","titleFontSize":11,"titleFontWeight":"normal","titleColor":"#2a5bd0","strokeColor":"#c8c8c8","cornerRadius":4,"padding":6,"symbolType":"circle"}
}
}
